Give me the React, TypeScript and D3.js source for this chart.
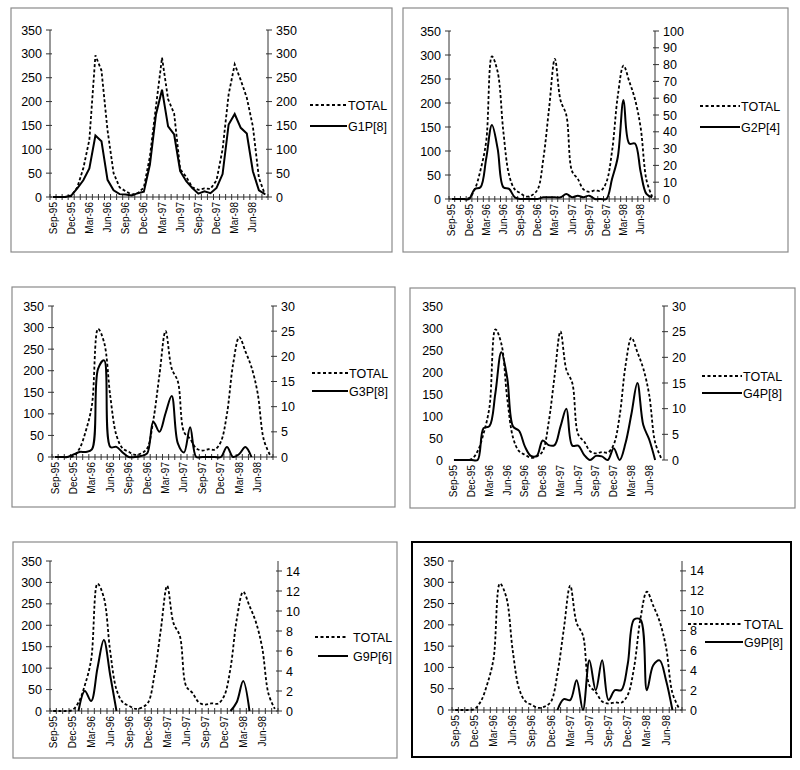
import React from 'react';
import * as d3 from 'd3';

const months = ['Sep-95','Oct-95','Nov-95','Dec-95','Jan-96','Feb-96','Mar-96','Apr-96','May-96','Jun-96','Jul-96','Aug-96','Sep-96','Oct-96','Nov-96','Dec-96','Jan-97','Feb-97','Mar-97','Apr-97','May-97','Jun-97','Jul-97','Aug-97','Sep-97','Oct-97','Nov-97','Dec-97','Jan-98','Feb-98','Mar-98','Apr-98','May-98','Jun-98','Jul-98','Aug-98'];

const total = [0,0,0,2,20,60,120,297,265,140,50,20,12,5,8,20,85,190,292,205,175,58,42,20,15,18,17,35,100,215,278,245,208,148,40,5];

const g1p8 = [0,0,0,3,18,35,60,129,117,36,14,6,5,3,8,11,68,173,225,148,131,54,33,19,7,12,8,19,48,152,174,145,133,54,14,6];
const g2p4 = [0,0,0,0,6,7,24,44,30,7,6,1,0,0,0,0,1,1,1,1,3,1,2,1,2,0,0,0,12,25,59,33,33,16,3,1];
const g3p8 = [0,0,0,0.5,1,1,1.5,17.5,19.2,2,2,0.9,0,0,0.2,0.7,7,5,8.7,12.1,2.7,0.9,5.9,0,0,0,0,0,2,0,0.6,2,0,null,null,null];
const g4p8 = [0,0,0,0,0,6.2,6.6,13,21,16,6.5,5.7,2.6,0.8,0.8,3.8,2.9,2.9,6.5,10,2.8,2.8,1,0,0.8,0.7,0,2.3,0,3.3,9,15,6.8,4,0,null];
const g9p6 = [null,null,null,null,0,2,1,4.3,7.1,3.6,0,null,null,null,null,null,null,null,null,null,null,null,null,null,null,null,null,null,0,0.9,3,0,null,null,null,null];
const g9p8 = [null,null,null,null,null,null,null,null,null,null,null,null,null,null,null,null,0,1.1,1,3,0,5,2,5,1,2,2,4.6,9.1,9.1,2,4.5,5,3,0,null];

const leftTicks = [0,50,100,150,200,250,300,350];
const rightTicks350 = [0,50,100,150,200,250,300,350];
const rightTicks100 = [0,10,20,30,40,50,60,70,80,90,100];
const rightTicks30 = [0,5,10,15,20,25,30];
const rightTicks15 = [0,2,4,6,8,10,12,14];

const seriesNames = ['G1P[8]','G2P[4]','G3P[8]','G4P[8]','G9P[6]','G9P[8]'];
const seriesValues = [g1p8, g2p4, g3p8, g4p8, g9p6, g9p8];
const rightMaxes = [350, 100, 30, 30, 15, 15];
const rightTickSets = [rightTicks350, rightTicks100, rightTicks30, rightTicks30, rightTicks15, rightTicks15];

const FONT = "'Liberation Sans', Arial, Helvetica, sans-serif";

type Layout = {
  box: [number, number, number, number];
  l: number; r: number; t: number; b: number;
  legX: [number, number, number, number]; legY: [number, number];
  thick?: boolean; noLeftAxis?: boolean; noXAxis?: boolean; linear?: boolean;
};

// legX: [dotted start, solid start, line end, text x]
const layouts: Layout[] = [
  { box: [11, 8, 392, 252], l: 50, r: 268, t: 30, b: 197, legX: [310, 310, 347, 348], legY: [105, 126], linear: true },
  { box: [403, 8, 788, 252], l: 449, r: 655, t: 31, b: 199, legX: [700, 700, 740, 741], legY: [106, 127] },
  { box: [12, 287, 395, 507], l: 52, r: 273, t: 306, b: 457, legX: [312, 312, 348, 349], legY: [373, 391] },
  { box: [410, 288, 795, 508], l: 451, r: 664, t: 306, b: 460, legX: [702, 702, 742, 743], legY: [376, 393], noLeftAxis: true, noXAxis: true },
  { box: [13, 542, 397, 758], l: 50, r: 278, t: 561, b: 711, legX: [315, 318, 348, 353], legY: [637, 656] },
  { box: [412, 542, 791, 757], l: 452, r: 682, t: 561, b: 710, legX: [688, 705, 743, 744], legY: [624, 642], thick: true },
];

const AXIS = '#333';

function Panel({ idx }: { idx: number }) {
  const L = layouts[idx];
  const values = seriesValues[idx] as (number | null)[];
  const x = d3.scaleBand<string>().domain(months).range([L.l, L.r]).paddingInner(0).paddingOuter(0);
  const bw = x.bandwidth();
  const cx = (i: number) => (x(months[i]) as number) + bw / 2;
  const yL = d3.scaleLinear().domain([0, 350]).range([L.b, L.t]);
  const yR = d3.scaleLinear().domain([0, rightMaxes[idx]]).range([L.b, L.t]);
  const curve = L.linear ? d3.curveLinear : d3.curveCatmullRom.alpha(0.5);

  const totalLine = d3.line<number>().x((_, i) => cx(i)).y(v => yL(v)).curve(curve);
  const serLine = d3.line<number | null>()
    .defined(v => v != null)
    .x((_, i) => cx(i))
    .y(v => yR(v as number))
    .curve(curve);

  const boundaries = d3.range(months.length + 1).map(k => L.l + k * bw);

  return (
    <g>
      <rect x={L.box[0]} y={L.box[1]} width={L.box[2] - L.box[0]} height={L.box[3] - L.box[1]}
        fill="white" stroke={L.thick ? '#000' : '#8a8a8a'} strokeWidth={L.thick ? 2 : 1.2} />
      {!L.noLeftAxis && <line x1={L.l} x2={L.l} y1={yL(350)} y2={yL(0)} stroke={AXIS} strokeWidth={1} />}
      {leftTicks.map(v => (
        <g key={'lt' + v}>
          {!L.noLeftAxis && <line x1={L.l - 4} x2={L.l + 2} y1={yL(v)} y2={yL(v)} stroke={AXIS} strokeWidth={1} />}
          <text x={L.l - 8} y={yL(v)} dy="0.36em" textAnchor="end" fontSize={12.5} fontFamily={FONT} fill="#000">{v}</text>
        </g>
      ))}
      <line x1={L.r} x2={L.r} y1={yR(rightMaxes[idx])} y2={yR(0)} stroke={AXIS} strokeWidth={1} />
      {rightTickSets[idx].map(v => (
        <g key={'rt' + v}>
          <line x1={L.r - 2} x2={L.r + 4} y1={yR(v)} y2={yR(v)} stroke={AXIS} strokeWidth={1} />
          <text x={L.r + 8} y={yR(v)} dy="0.36em" textAnchor="start" fontSize={12.5} fontFamily={FONT} fill="#000">{v}</text>
        </g>
      ))}
      {!L.noXAxis && <line x1={L.l} x2={L.r} y1={L.b} y2={L.b} stroke={AXIS} strokeWidth={1} />}
      {!L.noXAxis && boundaries.map((bx, k) => (
        <line key={'xt' + k} x1={bx} x2={bx} y1={L.b - 3} y2={L.b + 3} stroke={AXIS} strokeWidth={1} />
      ))}
      {months.map((m, i) => i % 3 === 0 ? (
        <text key={'xl' + m} transform={`translate(${cx(i)},${L.b + 5}) rotate(-90)`} dy="0.35em"
          textAnchor="end" fontSize={10} fontFamily={FONT} fill="#000">{m}</text>
      ) : null)}
      <path d={totalLine(total) || ''} fill="none" stroke="#000" strokeWidth={1.8} strokeDasharray="3,2.2" />
      <path d={serLine(values) || ''} fill="none" stroke="#000" strokeWidth={2} />
      <line x1={L.legX[0]} x2={L.legX[2]} y1={L.legY[0]} y2={L.legY[0]} stroke="#000" strokeWidth={1.8} strokeDasharray="3,2.5" />
      <text x={L.legX[3]} y={L.legY[0]} dy="0.36em" fontSize={12.5} fontFamily={FONT} fill="#000">TOTAL</text>
      <line x1={L.legX[1]} x2={L.legX[2]} y1={L.legY[1]} y2={L.legY[1]} stroke="#000" strokeWidth={2} />
      <text x={L.legX[3]} y={L.legY[1]} dy="0.36em" fontSize={12.5} fontFamily={FONT} fill="#000">{seriesNames[idx]}</text>
    </g>
  );
}

export default function App() {
  return (
    <svg width={800} height={770} style={{ position: 'absolute', left: 0, top: 0, background: '#fff' }}>
      <rect x={0} y={0} width={800} height={770} fill="#fff" />
      {layouts.map((_, i) => <Panel key={i} idx={i} />)}
    </svg>
  );
}
